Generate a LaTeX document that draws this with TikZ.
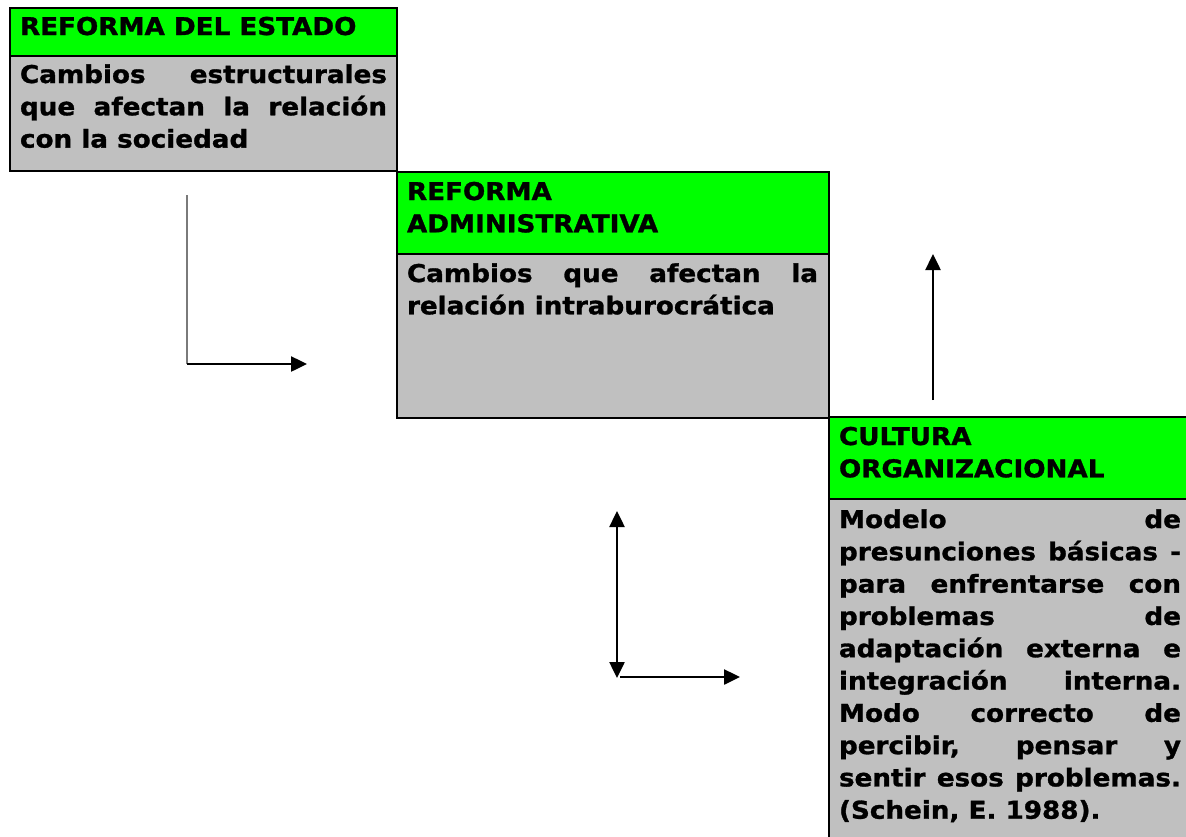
\documentclass[tikz,border=0pt]{standalone}
\usepackage{fontspec}
\setmainfont{DejaVu Sans}[FakeStretch=1.07,BoldFeatures={FakeBold=1.2}]
\usetikzlibrary{arrows.meta}
\definecolor{hdrgreen}{HTML}{00FF00}
\definecolor{bodygray}{HTML}{C0C0C0}
\definecolor{linegray}{HTML}{7A7A7A}
\newcommand\justln[2]{\makebox[#1][s]{#2}}
\begin{document}
\begin{tikzpicture}[x=1pt,y=-1pt,
  boxpart/.style={draw=black,line width=2.3pt,anchor=north west,inner sep=0pt,outer sep=0pt},
  hdr/.style={boxpart,fill=hdrgreen},
  bdy/.style={boxpart,fill=bodygray},
  txt/.style={anchor=base west,inner sep=0pt,outer sep=0pt,font=\fontsize{24.5}{32.3}\selectfont\bfseries},
  arr/.style={line width=2.5pt,-{Triangle[length=16pt,width=15pt]}},
  darr/.style={line width=2.5pt,{Triangle[length=16pt,width=15pt]}-{Triangle[length=16pt,width=15pt]}},
]
\useasboundingbox (0,0) rectangle (1186,836);
\fill[white] (0,0) rectangle (1186,836);

% Box 1
\node[hdr,minimum width=387pt,minimum height=48pt] (h1) at (10,8) {};
\node[bdy,minimum width=387pt,minimum height=115pt] (b1) at (10,56) {};
\node[txt] (h1t) at (20,35) {REFORMA DEL ESTADO};
\node[txt] (b1t) at (20,83) {\parbox[t]{367pt}{\justln{367pt}{Cambios estructurales}\\\justln{367pt}{que afectan la relación}\\con la sociedad}};

% Box 2
\node[hdr,minimum width=432pt,minimum height=82pt] (h2) at (397,172) {};
\node[bdy,minimum width=432pt,minimum height=164pt] (b2) at (397,254) {};
\node[txt] (h2t) at (407,200) {\parbox[t]{411pt}{REFORMA\\ADMINISTRATIVA}};
\node[txt] (b2t) at (407,282) {\parbox[t]{411pt}{\justln{411pt}{Cambios que afectan la}\\relación intraburocrática}};

% Box 3 (runs past the page edge)
\begin{scope}
\clip (0,0) rectangle (1186,836);
\node[hdr,minimum width=380pt,minimum height=82pt] (h3) at (829,417) {};
\node[bdy,minimum width=380pt,minimum height=360pt] (b3) at (829,499) {};
\end{scope}
\node[txt] (h3t) at (839,445) {\parbox[t]{342pt}{CULTURA\\ORGANIZACIONAL}};
\node[txt] (b3t) at (839,528) {\parbox[t]{342pt}{%
\justln{342pt}{Modelo de}\\
\justln{342pt}{presunciones básicas -}\\
\justln{342pt}{para enfrentarse con}\\
\justln{342pt}{problemas de}\\
\justln{342pt}{adaptación externa e}\\
\justln{342pt}{integración interna.}\\
\justln{342pt}{Modo correcto de}\\
\justln{342pt}{percibir, pensar y}\\
\justln{342pt}{sentir esos problemas.}\\
(Schein, E. 1988).}};

% Arrows
\coordinate (a1t) at (187,195);
\coordinate (a1c) at (187,364);
\coordinate (a1e) at (307,364);
\draw[linegray,line width=1.5pt] (a1t) -- (a1c);
\draw[arr] (a1c) -- (a1e);

\coordinate (a2t) at (617,511);
\coordinate (a2b) at (617,678);
\coordinate (a2s) at (620,677);
\coordinate (a2e) at (740,677);
\draw[darr] (a2b) -- (a2t);
\draw[arr] (a2s) -- (a2e);

\coordinate (a3b) at (933,400);
\coordinate (a3t) at (933,254);
\draw[arr] (a3b) -- (a3t);
\end{tikzpicture}
\end{document}
